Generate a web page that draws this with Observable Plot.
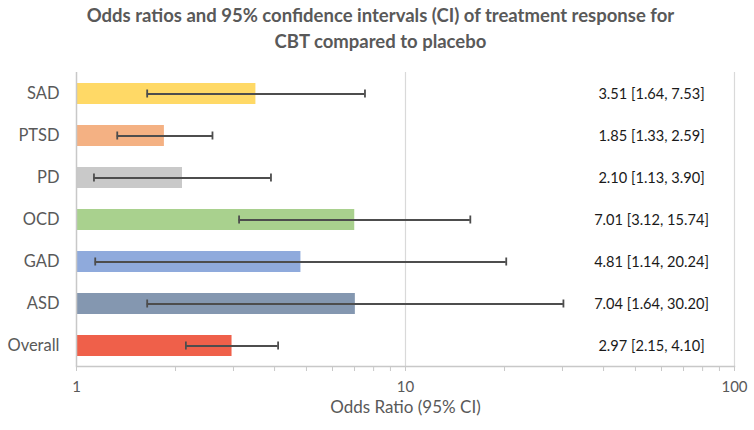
<!DOCTYPE html>
<html>
<head>
<meta charset="utf-8">
<script src="https://cdn.jsdelivr.net/npm/d3@7"></script>
<script src="https://cdn.jsdelivr.net/npm/@observablehq/plot@0.6"></script>
<style>
  html, body { margin: 0; padding: 0; background: #fff; }
  #chart { width: 754px; }
  .title { font-family: Lato, sans-serif; font-weight: bold; font-size: 18.5px; color: #595959;
           text-align: center; line-height: 26px; padding-top: 2px; padding-left: 7px; width: 747px; height: 53px; }
</style>
</head>
<body>
<div id="chart">
  <div class="title">Odds ratios and 95% confidence intervals (CI) of treatment response for<br>CBT compared to placebo</div>
</div>
<script>
const categories = ["SAD", "PTSD", "PD", "OCD", "GAD", "ASD", "Overall"];
const oddsRatio = [3.51, 1.85, 2.10, 7.01, 4.81, 7.04, 2.97];
const ciLow = [1.64, 1.33, 1.13, 3.12, 1.14, 1.64, 2.15];
const ciHigh = [7.53, 2.59, 3.90, 15.74, 20.24, 30.20, 4.10];
const barColors = ["#FFD966", "#F4B183", "#C9C9C9", "#A9D18E", "#8FAADC", "#8497B0", "#EF604A"];
const xTicks = [1, 2, 3, 4, 5, 6, 7, 8, 9, 10, 20, 30, 40, 50, 60, 70, 80, 90, 100];
const xTickLabels = [1, 10, 100];
const gridValues = [10, 100];
const baseline = 1;
const xLabel = "Odds Ratio (95% CI)";

const rows = categories.map((c, i) => ({
  category: c,
  or: oddsRatio[i],
  lo: ciLow[i],
  hi: ciHigh[i],
  base: baseline,
  label: `${oddsRatio[i].toFixed(2)} [${ciLow[i].toFixed(2)}, ${ciHigh[i].toFixed(2)}]`
}));

const plot = Plot.plot({
  width: 754,
  height: 371,
  marginTop: 17,
  marginLeft: 76,
  marginRight: 20,
  marginBottom: 60,
  style: { fontFamily: "Lato, sans-serif", fontSize: "14px", color: "#595959", background: "#fff" },
  x: { type: "log", domain: [1, 100] },
  y: { domain: categories, paddingInner: 0.5, paddingOuter: 0.25 },
  color: { domain: categories, range: barColors },
  marks: [
    Plot.ruleX(gridValues, { stroke: "#d9d9d9", strokeWidth: 1.2 }),
    Plot.barX(rows, { y: "category", x1: "base", x2: "or", fill: "category" }),
    Plot.ruleY(rows, { y: "category", x1: "lo", x2: "hi", stroke: "#4d4d4d", strokeWidth: 1.8 }),
    Plot.tickX(rows, { y: "category", x: "lo", stroke: "#4d4d4d", strokeWidth: 1.8, insetTop: 6.5, insetBottom: 6.5 }),
    Plot.tickX(rows, { y: "category", x: "hi", stroke: "#4d4d4d", strokeWidth: 1.8, insetTop: 6.5, insetBottom: 6.5 }),
    Plot.text(rows, { y: "category", text: "label", frameAnchor: "right", dx: -83, textAnchor: "middle",
                      fill: "#1a1a1a", fontSize: 14.6 }),
    Plot.ruleX([baseline], { stroke: "#c8c8c8", strokeWidth: 1.5 }),
    Plot.frame({ anchor: "bottom", stroke: "#c8c8c8", strokeWidth: 1.5 }),
    Plot.axisY({ tickSize: 0, tickPadding: 17, fontSize: 16.5, fill: "#595959", label: null }),
    Plot.axisX({ ticks: xTicks, tickSize: 5, stroke: "#c8c8c8", tickPadding: 10,
                 tickFormat: d => xTickLabels.includes(d) ? String(d) : "",
                 fill: "#595959", fontSize: 15, label: null }),
    Plot.text([xLabel], { frameAnchor: "bottom", dy: 46, text: d => d, fontSize: 17, fill: "#595959" })
  ]
});
document.getElementById("chart").appendChild(plot);
</script>
</body>
</html>
